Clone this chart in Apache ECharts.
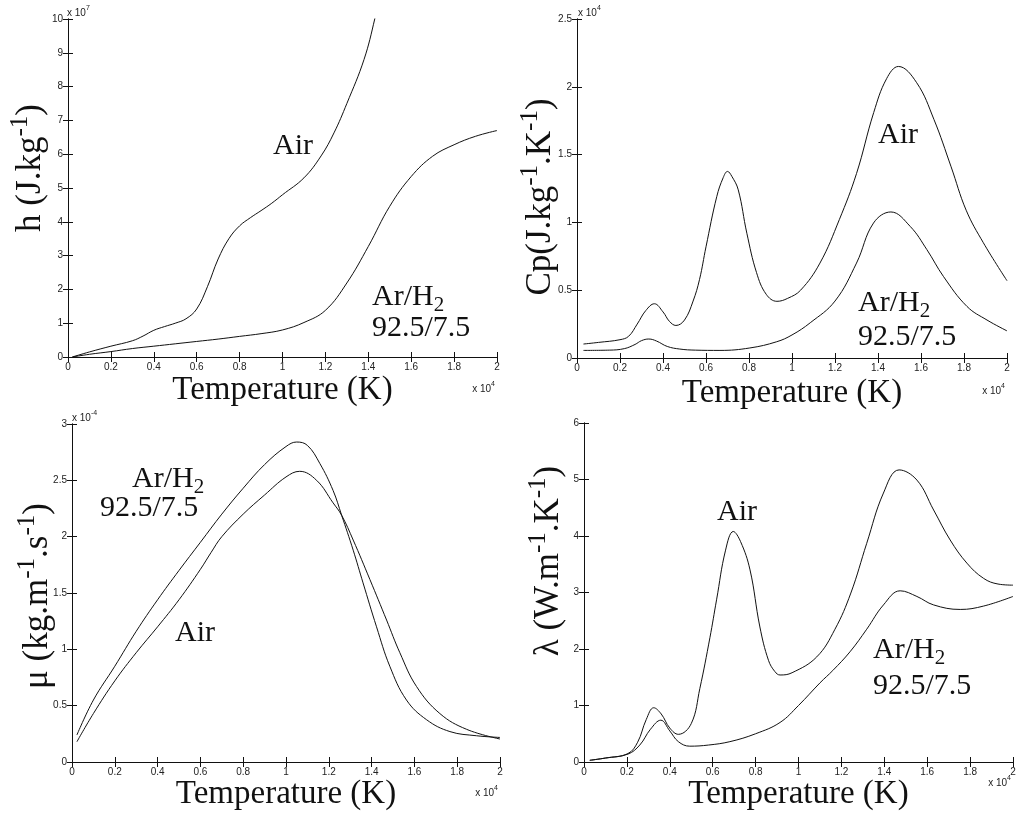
<!DOCTYPE html>
<html>
<head>
<meta charset="utf-8">
<title>Air and Ar/H2 plasma properties</title>
<script src="https://cdn.jsdelivr.net/npm/echarts@6/dist/echarts.min.js"></script>
<style>
html, body { margin: 0; padding: 0; background: #fff; }
#chart { width: 1018px; height: 821px; }
</style>
</head>
<body>
<div id="chart"></div>
<script>
// temperature in units of 1e4 K; values in the scaled units of each axis
var hAir = [[0.02,0],[0.1,0.15],[0.2,0.32],[0.3,0.48],[0.35,0.62],[0.4,0.79],[0.45,0.9],[0.5,1.0],[0.55,1.13],[0.6,1.42],[0.65,2.08],[0.7,2.9],[0.75,3.5],[0.8,3.88],[0.85,4.12],[0.9,4.33],[0.95,4.55],[1.0,4.8],[1.1,5.3],[1.18,5.95],[1.24,6.63],[1.3,7.5],[1.38,8.8],[1.43,10.0],[1.47,11.2]];
var hArH2 = [[0.02,0],[0.1,0.08],[0.2,0.16],[0.3,0.25],[0.4,0.32],[0.5,0.39],[0.6,0.46],[0.7,0.53],[0.8,0.61],[0.9,0.69],[1.0,0.8],[1.1,1.02],[1.2,1.38],[1.3,2.19],[1.4,3.27],[1.5,4.46],[1.6,5.34],[1.7,5.94],[1.8,6.28],[1.9,6.53],[2.0,6.7]];

var cpAir = [[0.03,0.103],[0.1,0.115],[0.2,0.135],[0.24,0.16],[0.28,0.25],[0.32,0.35],[0.36,0.40],[0.4,0.34],[0.43,0.27],[0.46,0.24],[0.5,0.28],[0.54,0.42],[0.57,0.58],[0.6,0.82],[0.65,1.19],[0.68,1.33],[0.70,1.376],[0.72,1.34],[0.75,1.24],[0.79,0.92],[0.835,0.63],[0.88,0.47],[0.93,0.418],[0.98,0.44],[1.04,0.5],[1.13,0.7],[1.22,1.02],[1.3,1.36],[1.38,1.81],[1.44,2.06],[1.495,2.15],[1.58,2.03],[1.66,1.76],[1.74,1.41],[1.81,1.09],[1.89,0.85],[2.0,0.57]];
var cpArH2 = [[0.03,0.056],[0.15,0.058],[0.22,0.069],[0.27,0.1],[0.3,0.128],[0.334,0.14],[0.37,0.125],[0.42,0.085],[0.478,0.066],[0.55,0.058],[0.665,0.056],[0.804,0.074],[0.929,0.12],[1.0,0.17],[1.085,0.26],[1.2,0.42],[1.3,0.7],[1.379,0.995],[1.46,1.077],[1.55,0.97],[1.627,0.8],[1.705,0.6],[1.814,0.38],[1.907,0.28],[2.0,0.2]];

var muAir = [[0.023,0.18],[0.1,0.43],[0.2,0.72],[0.3,0.97],[0.4,1.2],[0.5,1.44],[0.6,1.71],[0.65,1.86],[0.7,2.0],[0.8,2.2],[0.9,2.37],[1.0,2.53],[1.064,2.58],[1.143,2.5],[1.22,2.3],[1.26,2.19],[1.314,1.97],[1.392,1.62],[1.47,1.26],[1.532,0.97],[1.61,0.67],[1.719,0.43],[1.844,0.29],[2.0,0.204]];
var muArH2 = [[0.023,0.24],[0.1,0.55],[0.2,0.85],[0.3,1.16],[0.4,1.44],[0.5,1.7],[0.6,1.95],[0.7,2.2],[0.8,2.43],[0.9,2.64],[1.0,2.8],[1.05,2.84],[1.1,2.81],[1.158,2.65],[1.22,2.41],[1.26,2.19],[1.314,1.88],[1.36,1.59],[1.423,1.2],[1.485,0.85],[1.563,0.55],[1.657,0.375],[1.766,0.27],[1.89,0.233],[2.0,0.218]];

var lamAir = [[0.027,0.03],[0.1,0.07],[0.205,0.15],[0.25,0.35],[0.29,0.75],[0.325,0.96],[0.36,0.85],[0.4,0.6],[0.44,0.49],[0.5,0.68],[0.54,1.3],[0.587,2.2],[0.618,2.87],[0.66,3.75],[0.696,4.08],[0.73,3.9],[0.774,3.4],[0.82,2.39],[0.86,1.8],[0.89,1.6],[0.914,1.54],[0.97,1.58],[1.085,1.86],[1.17,2.35],[1.244,2.99],[1.318,3.87],[1.396,4.76],[1.469,5.17],[1.552,4.99],[1.63,4.46],[1.707,3.93],[1.785,3.52],[1.863,3.25],[1.93,3.15],[2.0,3.13]];
var lamArH2 = [[0.027,0.03],[0.1,0.07],[0.205,0.14],[0.26,0.3],[0.31,0.58],[0.358,0.74],[0.4,0.55],[0.44,0.36],[0.493,0.28],[0.58,0.3],[0.68,0.36],[0.8,0.5],[0.914,0.7],[1.0,1.0],[1.1,1.4],[1.16,1.62],[1.24,1.95],[1.318,2.35],[1.396,2.78],[1.474,3.03],[1.552,2.93],[1.63,2.78],[1.754,2.7],[1.863,2.76],[2.0,2.93]];

var yMax = [10, 2.5, 3, 6];
var yStep = [1, 0.5, 0.5, 1];

var serif = '"Liberation Serif", "Times New Roman", serif';
var sans = '"Liberation Sans", Arial, sans-serif';
var ink = '#111';

var grids = [
  {left: 68, top: 19, width: 429, height: 338},
  {left: 577, top: 19, width: 430, height: 339},
  {left: 72, top: 424, width: 428, height: 338},
  {left: 584, top: 423, width: 429, height: 339}
];
var xNameGap = [17, 19, 13, 11];
var seriesData = [[hAir, hArH2], [cpAir, cpArH2], [muAir, muArH2], [lamAir, lamArH2]];

var xAxes = [], yAxes = [], series = [];
grids.forEach(function (g, i) {
  g.containLabel = false;
  g.outerBoundsMode = 'none';
  ['bottom', 'top'].forEach(function (pos) {
    xAxes.push({
      type: 'value', gridIndex: i, position: pos, min: 0, max: 2, interval: 0.2,
      name: pos === 'bottom' ? 'Temperature (K)' : '',
      nameLocation: 'middle', nameGap: xNameGap[i],
      nameTextStyle: {fontFamily: serif, fontSize: 33, color: ink},
      axisLine: {show: true, lineStyle: {color: ink, width: 1}},
      axisTick: {show: true, inside: true, length: 5, lineStyle: {color: ink}},
      axisLabel: {show: pos === 'bottom', fontFamily: sans, fontSize: 10, color: '#222', margin: 5},
      splitLine: {show: false}
    });
  });
  ['left', 'right'].forEach(function (pos) {
    yAxes.push({
      type: 'value', gridIndex: i, position: pos, min: 0, max: yMax[i], interval: yStep[i],
      axisLine: {show: true, lineStyle: {color: ink, width: 1}},
      axisTick: {show: true, inside: true, length: 5, lineStyle: {color: ink}},
      axisLabel: {show: pos === 'left', fontFamily: sans, fontSize: 10, color: '#222', margin: 5},
      splitLine: {show: false}
    });
  });
  seriesData[i].forEach(function (d) {
    series.push({
      type: 'line', xAxisIndex: 2 * i, yAxisIndex: 2 * i, data: d,
      showSymbol: false, smooth: 0.4, clip: true,
      lineStyle: {color: ink, width: 1}, silent: true
    });
  });
});

var supRich = {
  m: {fontFamily: serif, fontSize: 35, fill: ink, verticalAlign: 'bottom'},
  s: {fontFamily: serif, fontSize: 25, fill: ink, verticalAlign: 'bottom', padding: [0, 0, 16, 0]}
};
var subRich = {
  m: {fontFamily: serif, fontSize: 30, fill: ink, verticalAlign: 'top'},
  b: {fontFamily: serif, fontSize: 21, fill: ink, verticalAlign: 'top', padding: [13, 0, 0, 0]}
};
var expRich = {
  a: {fontFamily: sans, fontSize: 10, fill: '#222', verticalAlign: 'bottom'},
  e: {fontFamily: sans, fontSize: 7, fill: '#222', verticalAlign: 'bottom', padding: [0, 0, 6, 0]}
};

function yName(x, y, text) {
  return {type: 'text', x: x, y: y, rotation: Math.PI / 2, silent: true,
    style: {text: text, rich: supRich, align: 'center', verticalAlign: 'middle'}};
}
function note(x, y, text, rich) {
  return {type: 'text', x: x, y: y, silent: true,
    style: rich ? {text: text, rich: rich, align: 'left', verticalAlign: 'middle'}
      : {text: text, font: '30px ' + serif, fill: ink, align: 'left', verticalAlign: 'middle'}};
}
function expo(x, y, text, align) {
  return {type: 'text', x: x, y: y, silent: true,
    style: {text: text, rich: expRich, align: align, verticalAlign: 'bottom'}};
}

var graphics = [
  yName(28, 168, '{m|h (J.kg}{s|-1}{m|)}'),
  yName(538, 197, '{m|Cp(J.kg}{s|-1}{m|.K}{s|-1}{m|)}'),
  yName(35, 596, '{m|\u03bc (kg.m}{s|-1}{m|.s}{s|-1}{m|)}'),
  yName(546, 561, '{m|\u03bb (W.m}{s|-1}{m|.K}{s|-1}{m|)}'),

  note(273, 146, 'Air'),
  note(372, 299, '{m|Ar/H}{b|2}', subRich),
  note(372, 328, '92.5/7.5'),
  note(878, 135, 'Air'),
  note(858, 305, '{m|Ar/H}{b|2}', subRich),
  note(858, 337, '92.5/7.5'),
  note(132, 481, '{m|Ar/H}{b|2}', subRich),
  note(100, 508, '92.5/7.5'),
  note(175, 633, 'Air'),
  note(717, 512, 'Air'),
  note(873, 652, '{m|Ar/H}{b|2}', subRich),
  note(873, 686, '92.5/7.5'),

  expo(67, 18, '{a|x 10}{e|7}', 'left'),
  expo(578, 18, '{a|x 10}{e|4}', 'left'),
  expo(72, 423, '{a|x 10}{e|-4}', 'left'),
  expo(495, 394, '{a|x 10}{e|4}', 'right'),
  expo(1005, 396, '{a|x 10}{e|4}', 'right'),
  expo(498, 798, '{a|x 10}{e|4}', 'right'),
  expo(1011, 788, '{a|x 10}{e|4}', 'right')
];

var chart = echarts.init(document.getElementById('chart'));
chart.setOption({
  animation: false,
  backgroundColor: '#fff',
  grid: grids,
  xAxis: xAxes,
  yAxis: yAxes,
  series: series,
  graphic: graphics
});
</script>
</body>
</html>
